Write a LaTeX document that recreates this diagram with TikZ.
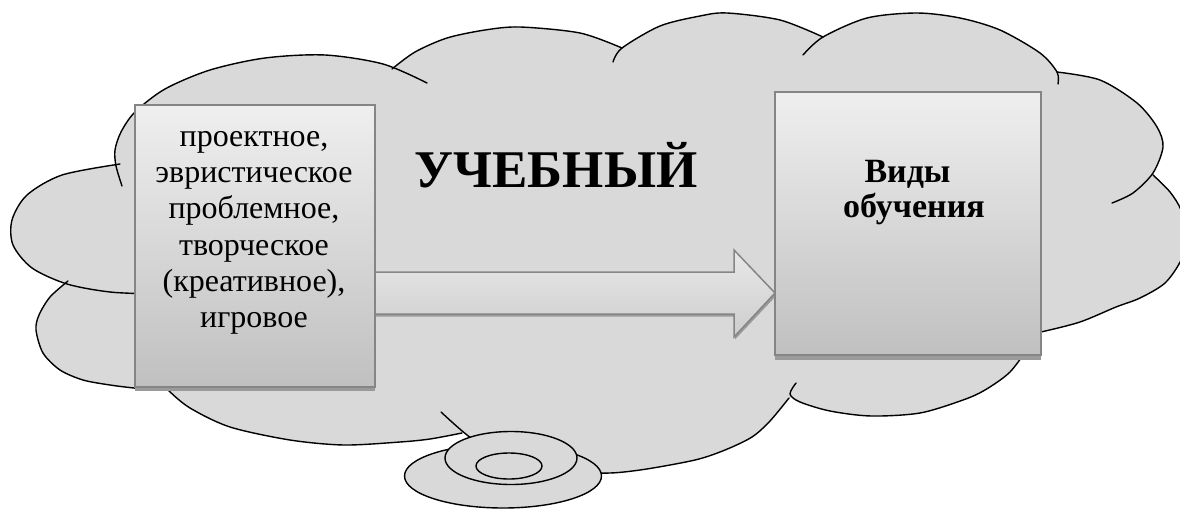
\documentclass[tikz,border=0pt]{standalone}
\usepackage{fontspec}
\setmainfont{Liberation Serif}
\usetikzlibrary{calc}
\definecolor{cloudfill}{HTML}{D9D9D9}
\definecolor{boxtop}{HTML}{EFEFEF}
\definecolor{boxbot}{HTML}{C0C0C0}
\definecolor{arrtop}{HTML}{E8E8E8}
\definecolor{arrbot}{HTML}{CDCDCD}
\definecolor{boxline}{HTML}{858585}
\definecolor{shadowc}{HTML}{9A9A9A}
\newcommand\filllobe[1]{\edef\mytmpcmd{\noexpand\fill[cloudfill] plot[smooth] coordinates {#1} -- (cc) -- cycle;}\mytmpcmd}
\newcommand\drawlobe[1]{\edef\mytmpcmd{\noexpand\draw[cloudline] plot[smooth] coordinates {#1};}\mytmpcmd}
\def\lobeA{(155,294) (110,292) (67,284) (32,268) (13,245) (12,220) (27,195) (62,175) (120,164)}
\def\lobeB{(122,186) (116,166) (115,150) (121,132) (135,112) (165,89) (210,70) (265,58) (325,55) (383,64) (427,83)}
\def\lobeC{(392,69) (415,52) (447,38) (485,30) (520,27) (580,33) (622,48)}
\def\lobeD{(613,62) (622,48) (660,26) (700,16) (727,13) (780,20) (823,37)}
\def\lobeE{(803,55) (823,37) (867,18) (917,13) (960,18) (1000,30) (1040,53) (1057,72) (1058,84)}
\def\lobeF{(1057,72) (1100,80) (1137,103) (1157,127) (1163,147) (1153,173) (1133,193) (1112,203)}
\def\lobeG{(1153,175) (1170,192) (1181,210) (1186,235) (1181,260) (1165,283) (1140,298) (1116,307) (1080,322) (1041,332) (1020,336)}
\def\lobeH{(1030,345) (1010,372) (985,390) (963,400) (920,413) (871,416) (830,411) (800,402) (790,394) (796,383)}
\def\lobeI{(789,398) (770,421) (752,437) (725,450) (695,460) (640,470) (600,473) (545,466) (500,452) (471,438) (441,412)}
\def\lobeJ{(462,433) (430,439) (400,442) (344,445) (290,440) (230,427) (190,408) (168,390) (160,380)}
\def\lobeL{(150,389) (134,388) (110,385) (83,380) (60,370) (43,353) (36,330) (39,315) (50,297) (68,281)}
\begin{document}
\begin{tikzpicture}[x=1pt,y=-1pt,
  cloudline/.style={line width=1.4pt, draw=black, line cap=round},
  bubble/.style={fill=cloudfill, draw=black, line width=1.4pt},
  gradbox/.style={draw=boxline, line width=1.5pt, top color=boxtop, bottom color=boxbot, rectangle, inner sep=0pt, outer sep=0pt},
  placebox/.style={rectangle, inner sep=0pt, outer sep=0pt, draw=none},
  arrowshape/.style={draw=boxline, line width=1.5pt, top color=arrtop, bottom color=arrbot, line join=miter},
  shadowfill/.style={fill=shadowc, draw=none},
  leftfont/.style={font=\fontsize{32}{36}\selectfont, inner sep=0pt},
  rightfont/.style={font=\bfseries\fontsize{34}{38}\selectfont, inner sep=0pt},
  titlefont/.style={font=\bfseries\fontsize{53}{60}\selectfont, inner sep=0pt},
]
\useasboundingbox (0,0) rectangle (1180,511);
\coordinate (cc) at (600,250);

% cloud body
\fill[cloudfill] (120,164) -- (400,66) -- (620,50) -- (818,40) -- (1057,75) -- (1150,178) -- (1041,332) -- (1024,357) -- (791,398) -- (462,433) -- (165,388) -- (65,283) -- cycle;
\foreach \lb in {\lobeA,\lobeB,\lobeC,\lobeD,\lobeE,\lobeF,\lobeG,\lobeH,\lobeI,\lobeJ,\lobeL}{\filllobe{\lb}}
\foreach \lb in {\lobeA,\lobeB,\lobeC,\lobeD,\lobeE,\lobeF,\lobeG,\lobeH,\lobeI,\lobeJ,\lobeL}{\drawlobe{\lb}}

% thought bubbles
\draw[bubble] (503,476) ellipse [x radius=98.5, y radius=32];
\draw[bubble] (511,458) ellipse [x radius=66, y radius=26.5];
\draw[bubble] (509,466) ellipse [x radius=33, y radius=13];

% box positions
\node[placebox, minimum width=240pt, minimum height=282pt] (L) at (255,246) {};
\node[placebox, minimum width=266pt, minimum height=263pt] (R) at (908,223.5) {};

% arrow from L to R
\coordinate (tail) at ([xshift=-15pt, yshift=-47pt]L.east);
\coordinate (tip) at (R.west |- tail);
\fill[shadowc] ($(tail)+(0,-18)$) -- ($(tip)+(-40,-18)$) -- ($(tip)+(-40,-40)$) -- ($(tip)+(1,3)$) -- ($(tip)+(-40,46.5)$) -- ($(tip)+(-40,23.5)$) -- ($(tail)+(0,23.5)$) -- cycle;
\draw[arrowshape] ($(tail)+(0,-21)$) -- ($(tip)+(-41,-21)$) -- ($(tip)+(-41,-43)$) -- (tip) -- ($(tip)+(-41,44)$) -- ($(tip)+(-41,21)$) -- ($(tail)+(0,21)$) -- cycle;

% box shadows and boxes
\fill[shadowfill] ([yshift=-4pt]L.south west) rectangle ([yshift=-4pt]L.north east);
\fill[shadowfill] ([yshift=-5pt]R.south west) rectangle ([yshift=-5pt]R.north east);
\node[gradbox, minimum width=240pt, minimum height=282pt] (Lbox) at (L) {};
\node[gradbox, minimum width=266pt, minimum height=263pt] (Rbox) at (R) {};

% texts
\foreach \t [count=\i] in {{проектное,},эвристическое,{проблемное,},творческое,{(креативное),},игровое}{
  \node[leftfont, anchor=base] (lt\i) at (254,{146.5+36.2*(\i-1)}) {\t};
}
\node[rightfont, anchor=base] (rt1) at (907.5,182) {Виды};
\node[rightfont, anchor=base] (rt2) at (914,217) {обучения};
\node[titlefont, anchor=base] (title) at (556,187) {УЧЕБНЫЙ};
\end{tikzpicture}
\end{document}
